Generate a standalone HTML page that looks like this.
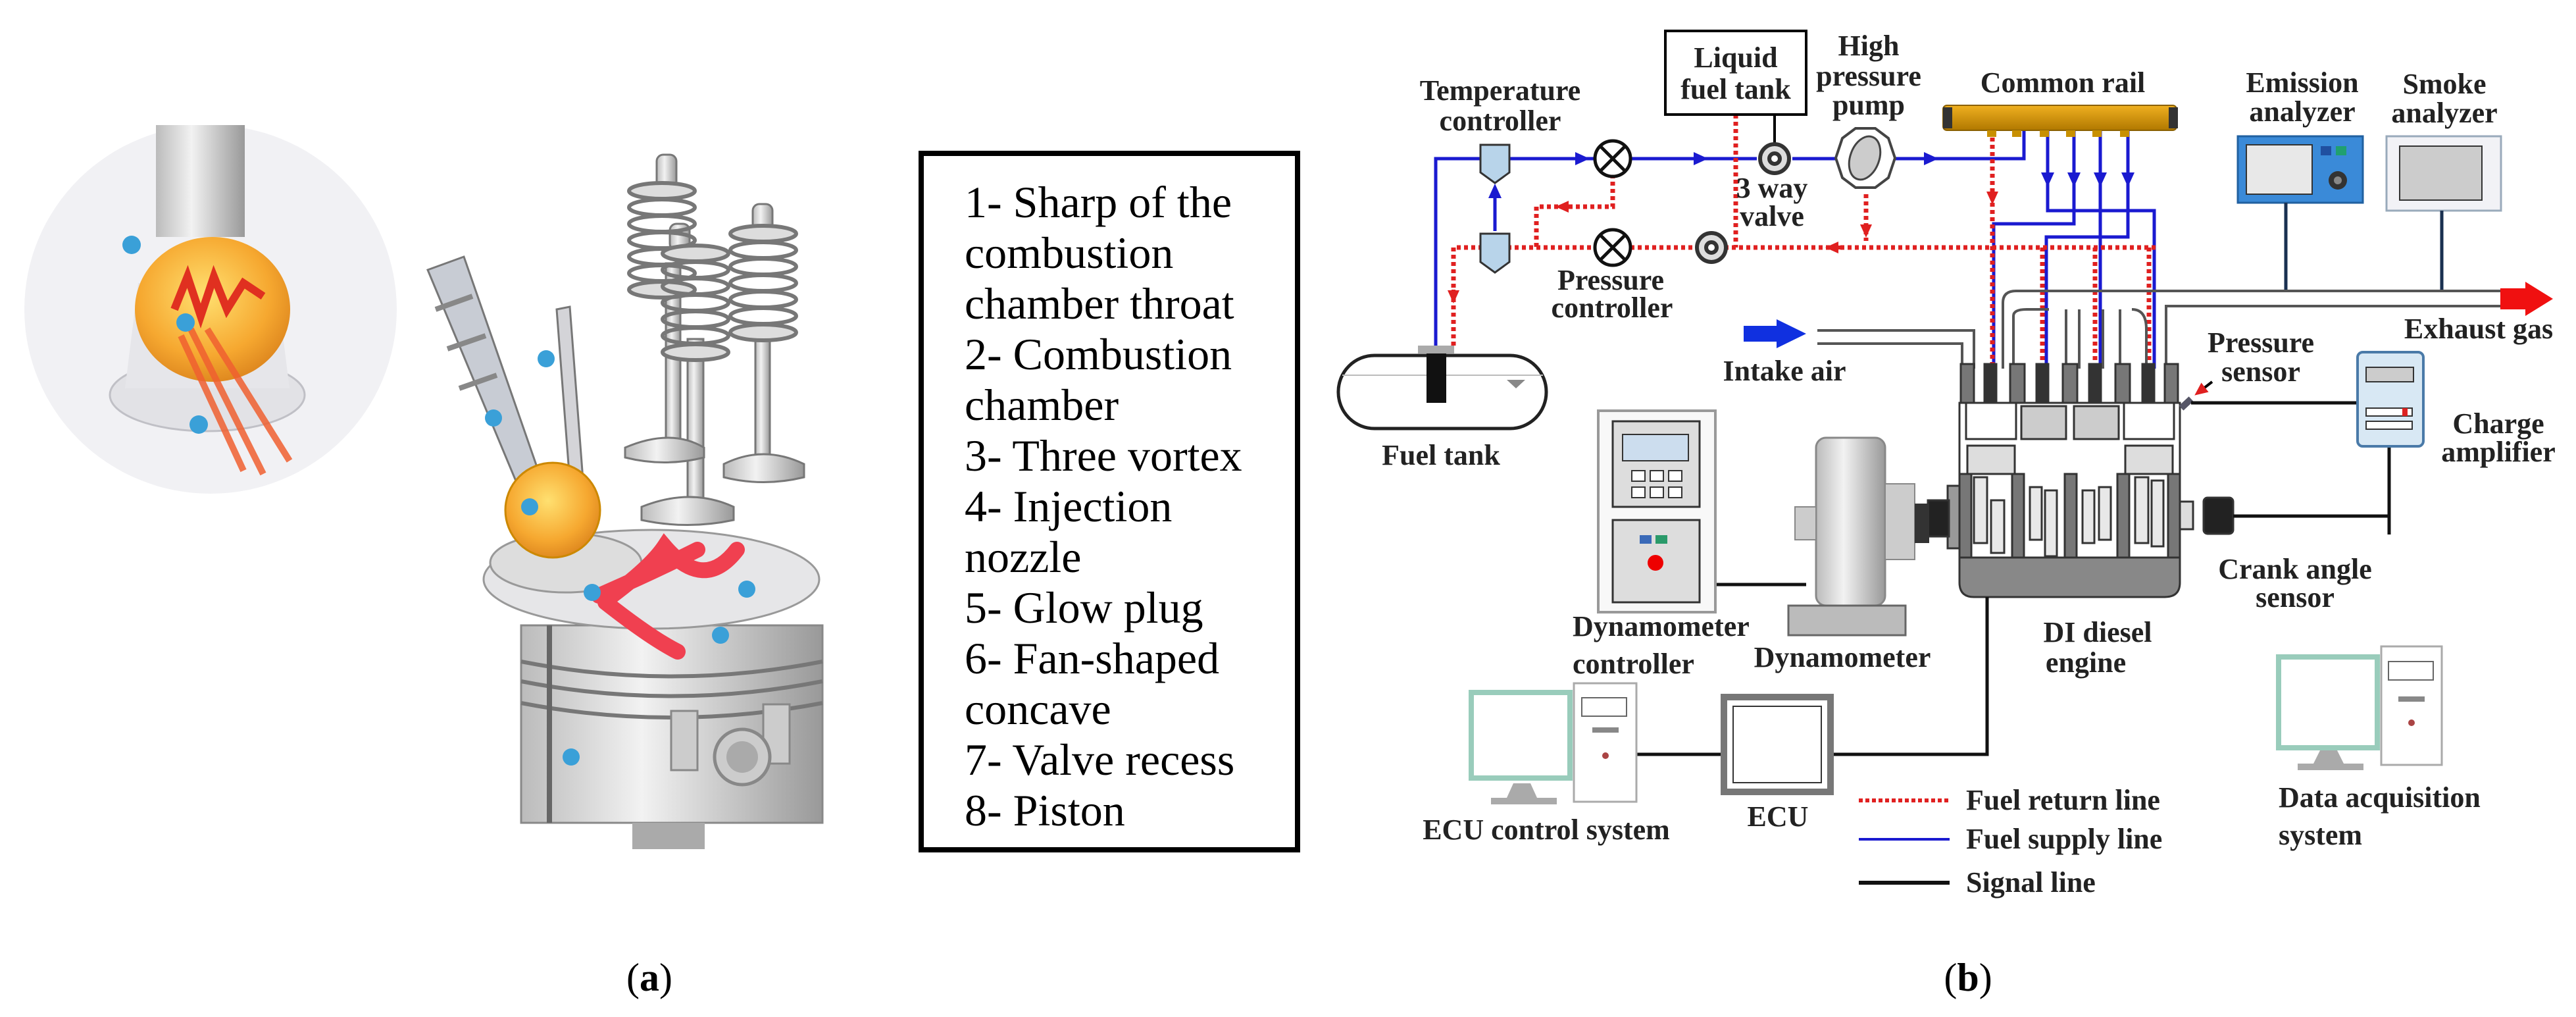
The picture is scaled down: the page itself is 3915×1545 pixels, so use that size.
<!DOCTYPE html>
<html><head><meta charset="utf-8"><style>
html,body{margin:0;padding:0;background:#fff;}
svg{display:block}
text{font-family:"Liberation Serif",serif;}
.b{font-weight:bold;font-size:44px;fill:#222;}
</style></head><body>
<svg width="3915" height="1545" viewBox="0 0 3915 1545" xmlns="http://www.w3.org/2000/svg">
<defs>
<radialGradient id="ball" cx="0.45" cy="0.4" r="0.6"><stop offset="0" stop-color="#ffe070"/><stop offset="0.7" stop-color="#f6a830"/><stop offset="1" stop-color="#e08a20"/></radialGradient>
<linearGradient id="steel" x1="0" x2="1"><stop offset="0" stop-color="#bbb"/><stop offset="0.4" stop-color="#f2f2f2"/><stop offset="1" stop-color="#999"/></linearGradient>
<linearGradient id="gold" x1="0" y1="0" x2="0" y2="1"><stop offset="0" stop-color="#f0b020"/><stop offset="1" stop-color="#b07800"/></linearGradient>
<marker id="ab" markerWidth="22" markerHeight="20" refX="16" refY="10" orient="auto" markerUnits="userSpaceOnUse"><path d="M0,0L22,10L0,20z" fill="#1a1ad0"/></marker>
<marker id="ar" markerWidth="20" markerHeight="18" refX="14" refY="9" orient="auto" markerUnits="userSpaceOnUse"><path d="M0,0L20,9L0,18z" fill="#e02020"/></marker>
<g id="spring" fill="none" stroke="#777" stroke-width="6">
<ellipse cx="0" cy="0" rx="50" ry="12" fill="#ddd"/><ellipse cx="0" cy="25" rx="50" ry="12"/><ellipse cx="0" cy="50" rx="50" ry="12"/><ellipse cx="0" cy="75" rx="50" ry="12"/><ellipse cx="0" cy="100" rx="50" ry="12"/><ellipse cx="0" cy="125" rx="50" ry="12"/><ellipse cx="0" cy="150" rx="50" ry="12" fill="#ddd"/>
</g>
</defs>

<!-- ===== (a) ===== -->
<ellipse cx="320" cy="470" rx="283" ry="280" fill="#f1f1f4"/>
<rect x="237" y="190" width="135" height="170" fill="url(#steel)"/>
<ellipse cx="315" cy="600" rx="148" ry="55" fill="#e2e2e6" stroke="#c0c0c6" stroke-width="3"/>
<path d="M210,430 L420,430 L440,590 L190,590z" fill="#e6e6ea"/>
<ellipse cx="323" cy="470" rx="118" ry="110" fill="url(#ball)"/>
<path d="M265,470 L285,420 L305,480 L325,420 L345,470 L370,430 L400,450" stroke="#e03020" stroke-width="12" fill="none"/>
<path d="M290,500 L400,720 M315,500 L440,700 M275,510 L370,715" stroke="#f06030" stroke-width="10" opacity="0.85"/>
<circle cx="200" cy="372" r="14" fill="#3aa0d8"/><circle cx="282" cy="490" r="14" fill="#3aa0d8"/><circle cx="302" cy="645" r="14" fill="#3aa0d8"/>

<g fill="url(#steel)" stroke="#777" stroke-width="3">
<rect x="998" y="235" width="30" height="50" rx="10"/>
<rect x="1045" y="515" width="24" height="250"/>
<rect x="1012" y="400" width="22" height="280"/>
<rect x="1148" y="500" width="22" height="200"/>
<rect x="1018" y="340" width="30" height="40" rx="10"/>
<rect x="1144" y="310" width="30" height="40" rx="10"/>
</g>
<use href="#spring" x="1006" y="290"/>
<use href="#spring" x="1160" y="355"/>
<use href="#spring" x="1057" y="385"/>
<g fill="url(#steel)" stroke="#777" stroke-width="3">
<path d="M950,680 Q1020,650 1070,680 L1070,695 Q1010,710 950,695z"/>
<path d="M975,770 Q1050,740 1115,770 L1115,790 Q1045,805 975,790z"/>
<path d="M1100,705 Q1160,675 1222,705 L1222,725 Q1160,740 1100,725z"/>
</g>
<g stroke="#777" stroke-width="3">
<path d="M650,410 L705,390 L825,735 L790,745z" fill="#c8ccd4"/>
<path d="M662,470 L718,450 M680,530 L738,510 M698,590 L755,570" stroke="#888" stroke-width="8"/>
<path d="M846,470 L866,466 L888,755 L868,758z" fill="#d4d4d8"/>
</g>
<circle cx="750" cy="635" r="13" fill="#3aa0d8"/><circle cx="830" cy="545" r="13" fill="#3aa0d8"/>
<rect x="792" y="950" width="458" height="300" fill="url(#steel)" stroke="#888" stroke-width="3"/>
<ellipse cx="990" cy="880" rx="255" ry="75" fill="#e6e6e8" stroke="#999" stroke-width="3"/>
<path d="M792,1005 Q1020,1050 1250,1005 M792,1035 Q1020,1080 1250,1035 M792,1068 Q1020,1112 1250,1068" stroke="#777" stroke-width="6" fill="none"/>
<rect x="1020" y="1080" width="40" height="90" fill="#ccc" stroke="#888" stroke-width="3"/>
<rect x="1160" y="1070" width="40" height="90" fill="#ccc" stroke="#888" stroke-width="3"/>
<circle cx="1128" cy="1150" r="42" fill="#ccc" stroke="#888" stroke-width="5"/>
<circle cx="1128" cy="1150" r="24" fill="#aaa"/>
<rect x="961" y="1250" width="110" height="40" fill="#aaa"/>
<path d="M835,950 L835,1250" stroke="#666" stroke-width="8"/>
<ellipse cx="860" cy="855" rx="115" ry="45" fill="#ddd" stroke="#999" stroke-width="3"/>
<circle cx="840" cy="775" r="72" fill="url(#ball)" stroke="#c80" stroke-width="3"/>
<path d="M910,905 Q990,870 1060,835 M920,915 Q990,970 1030,990 M930,905 Q990,860 1010,830 Q1070,900 1120,835" stroke="#f04050" stroke-width="24" fill="none" stroke-linecap="round"/>
<g fill="#3aa0d8"><circle cx="805" cy="770" r="13"/><circle cx="900" cy="900" r="13"/><circle cx="1135" cy="895" r="13"/><circle cx="1095" cy="965" r="13"/><circle cx="868" cy="1150" r="13"/></g>

<rect x="1400" y="233" width="572" height="1058" fill="#fff" stroke="#000" stroke-width="8"/>
<text x="1466" y="330" font-size="68" fill="#000">
<tspan x="1466" y="330">1- Sharp of the</tspan>
<tspan x="1466" dy="77">combustion</tspan>
<tspan x="1466" dy="77">chamber throat</tspan>
<tspan x="1466" dy="77">2- Combustion</tspan>
<tspan x="1466" dy="77">chamber</tspan>
<tspan x="1466" dy="77">3- Three vortex</tspan>
<tspan x="1466" dy="77">4- Injection</tspan>
<tspan x="1466" dy="77">nozzle</tspan>
<tspan x="1466" dy="77">5- Glow plug</tspan>
<tspan x="1466" dy="77">6- Fan-shaped</tspan>
<tspan x="1466" dy="77">concave</tspan>
<tspan x="1466" dy="77">7- Valve recess</tspan>
<tspan x="1466" dy="77">8- Piston</tspan>
</text>
<text x="987" y="1505" font-size="60" text-anchor="middle">(<tspan font-weight="bold">a</tspan>)</text>

<!-- ===== (b) ===== -->
<g stroke="#1a1ad0" stroke-width="5" fill="none">
<path d="M2182,525 L2182,241 L2424,241 M2478,241 L2670,241 M2724,241 L2790,241 M2878,241 L3076,241 L3076,198"/>
<path d="M2272,351 L2272,285" marker-end="url(#ab)"/>
<path d="M2400,241 L2410,241" marker-end="url(#ab)"/>
<path d="M2580,241 L2590,241" marker-end="url(#ab)"/>
<path d="M2930,241 L2940,241" marker-end="url(#ab)"/>
<path d="M3112,198 L3112,278" marker-end="url(#ab)"/>
<path d="M3152,198 L3152,278" marker-end="url(#ab)"/>
<path d="M3192,198 L3192,278" marker-end="url(#ab)"/>
<path d="M3234,198 L3234,278" marker-end="url(#ab)"/>
<path d="M3112,278 L3112,320 L3274,320 L3274,560"/>
<path d="M3152,278 L3152,340 L3030,340 L3030,560"/>
<path d="M3192,278 L3192,560"/>
<path d="M3234,278 L3234,360 L3110,360 L3110,560"/>
</g>
<g stroke="#e02020" stroke-width="7" fill="none" stroke-dasharray="6,5">
<path d="M3276,376 L2209,376 L2209,525"/>
<path d="M2638,174 L2638,376"/>
<path d="M2836,295 L2836,366"/>
<path d="M2451,265 L2451,314 L2335,314 L2335,376"/>
<path d="M3028,198 L3028,560"/>
<path d="M3104,376 L3104,560"/><path d="M3184,376 L3184,560"/><path d="M3266,376 L3266,560"/>
</g>
<path d="M2388,314 L2370,314" stroke="#e02020" stroke-width="6" marker-end="url(#ar)"/>
<path d="M2209,440 L2209,455" stroke="#e02020" stroke-width="6" marker-end="url(#ar)"/>
<path d="M3028,290 L3028,305" stroke="#e02020" stroke-width="6" marker-end="url(#ar)"/>
<path d="M2836,340 L2836,355" stroke="#e02020" stroke-width="6" marker-end="url(#ar)"/>
<path d="M2800,376 L2780,376" stroke="#e02020" stroke-width="6" marker-end="url(#ar)"/>

<rect x="2531" y="47" width="214" height="127" fill="#fff" stroke="#000" stroke-width="4"/>
<path d="M2697,174 L2697,220" stroke="#000" stroke-width="4"/>
<text class="b" x="2638" y="102" text-anchor="middle">Liquid</text>
<text class="b" x="2638" y="150" text-anchor="middle">fuel tank</text>
<text class="b" x="2840" y="84" text-anchor="middle">High</text>
<text class="b" x="2840" y="130" text-anchor="middle">pressure</text>
<text class="b" x="2840" y="174" text-anchor="middle">pump</text>
<text class="b" x="2280" y="152" text-anchor="middle">Temperature</text>
<text class="b" x="2280" y="198" text-anchor="middle">controller</text>
<path d="M2250,220 L2294,220 L2294,262 L2272,278 L2250,262z" fill="#b8d4ea" stroke="#333" stroke-width="3"/>
<path d="M2250,355 L2294,355 L2294,398 L2272,414 L2250,398z" fill="#b8d4ea" stroke="#333" stroke-width="3"/>
<g stroke="#111" stroke-width="5" fill="#fff">
<circle cx="2451" cy="241" r="27"/><path d="M2432,222L2470,260M2470,222L2432,260"/>
<circle cx="2451" cy="376" r="27"/><path d="M2432,357L2470,395M2470,357L2432,395"/>
</g>
<g stroke="#333" stroke-width="6" fill="#ddd">
<circle cx="2697" cy="241" r="22"/><circle cx="2697" cy="241" r="8" fill="#fff"/>
<circle cx="2601" cy="376" r="22"/><circle cx="2601" cy="376" r="8" fill="#fff"/>
</g>
<text class="b" x="2693" y="300" text-anchor="middle">3 way</text>
<text class="b" x="2693" y="343" text-anchor="middle">valve</text>
<text class="b" x="2448" y="440" text-anchor="middle">Pressure</text>
<text class="b" x="2450" y="482" text-anchor="middle">controller</text>
<path d="M2800,210 L2820,195 L2850,195 L2870,210 L2880,240 L2870,270 L2850,285 L2820,285 L2800,270 L2790,240z" fill="#fff" stroke="#444" stroke-width="4"/>
<ellipse cx="2834" cy="240" rx="22" ry="34" fill="#ccc" stroke="#444" stroke-width="3" transform="rotate(20 2834 240)"/>
<text class="b" x="3135" y="140" text-anchor="middle">Common rail</text>
<rect x="2953" y="160" width="355" height="38" rx="6" fill="url(#gold)" stroke="#8a6000" stroke-width="2"/>
<rect x="2953" y="163" width="14" height="32" fill="#333"/><rect x="3296" y="163" width="14" height="32" fill="#333"/>
<g fill="#c89000"><rect x="3020" y="198" width="14" height="10"/><rect x="3058" y="198" width="14" height="10"/><rect x="3100" y="198" width="14" height="10"/><rect x="3140" y="198" width="14" height="10"/><rect x="3180" y="198" width="14" height="10"/><rect x="3222" y="198" width="14" height="10"/></g>
<text class="b" x="3499" y="140" text-anchor="middle">Emission</text>
<text class="b" x="3499" y="184" text-anchor="middle">analyzer</text>
<text class="b" x="3715" y="142" text-anchor="middle">Smoke</text>
<text class="b" x="3715" y="186" text-anchor="middle">analyzer</text>
<rect x="3401" y="207" width="190" height="101" fill="#3a8ad8" stroke="#2060a0" stroke-width="3"/>
<rect x="3414" y="220" width="100" height="75" fill="#e8e8e8" stroke="#333" stroke-width="2"/>
<rect x="3527" y="222" width="16" height="14" fill="#2050a0"/><rect x="3550" y="222" width="16" height="14" fill="#20a070"/>
<circle cx="3553" cy="274" r="14" fill="#333"/><circle cx="3553" cy="274" r="6" fill="#888"/>
<rect x="3627" y="207" width="174" height="113" fill="#f2f2f6" stroke="#9ab" stroke-width="3"/>
<rect x="3647" y="222" width="125" height="82" fill="#ccc" stroke="#333" stroke-width="2"/>
<g stroke="#1a3050" stroke-width="5"><path d="M3474,308L3474,442M3711,320L3711,442"/></g>
<g stroke="#555" stroke-width="4" fill="none">
<path d="M3044,560 L3044,460 Q3044,442 3064,442 L3800,442"/>
<path d="M3292,560 L3292,465 L3800,465"/>
<path d="M3060,560 L3060,480 Q3060,470 3080,470 L3114,470 M3140,470 L3140,560 M3160,470 L3160,560 M3196,470 L3196,560 M3222,470 L3222,560 M3240,470 Q3262,470 3262,500 L3262,560"/>
<path d="M2762,502 L3000,502 L3000,560 M2762,522 L2982,522 L2982,560"/>
</g>
<path d="M3800,438 L3838,438 L3838,428 L3880,454 L3838,480 L3838,470 L3800,470z" fill="#f01010"/>
<text class="b" x="3767" y="514" text-anchor="middle">Exhaust gas</text>
<path d="M2650,495 L2700,495 L2700,485 L2745,507 L2700,529 L2700,519 L2650,519z" fill="#1030e0"/>
<text class="b" x="2712" y="578" text-anchor="middle">Intake air</text>
<rect x="2034" y="540" width="316" height="111" rx="55" fill="#fff" stroke="#222" stroke-width="5"/>
<path d="M2040,570 L2345,570" stroke="#bbb" stroke-width="2"/>
<rect x="2155" y="525" width="55" height="12" fill="#aaa"/>
<rect x="2168" y="537" width="30" height="75" fill="#111"/>
<path d="M2290,577 L2318,577 L2304,590z" fill="#888"/>
<text class="b" x="2190" y="706" text-anchor="middle">Fuel tank</text>
<g stroke="#333" stroke-width="3">
<rect x="2978" y="612" width="335" height="235" fill="#fff"/>
<g fill="#777"><rect x="2980" y="553" width="20" height="59"/><rect x="3055" y="553" width="22" height="59"/><rect x="3135" y="553" width="22" height="59"/><rect x="3215" y="553" width="22" height="59"/><rect x="3290" y="553" width="20" height="59"/></g>
<g fill="#333"><rect x="3016" y="553" width="18" height="59"/><rect x="3095" y="553" width="18" height="59"/><rect x="3175" y="553" width="18" height="59"/><rect x="3256" y="553" width="18" height="59"/></g>
<rect x="2988" y="612" width="76" height="55" fill="#fff"/>
<rect x="3072" y="617" width="68" height="50" fill="#ccc"/>
<rect x="3152" y="617" width="68" height="50" fill="#ccc"/>
<rect x="3228" y="612" width="76" height="55" fill="#fff"/>
<rect x="2990" y="677" width="72" height="43" fill="#ddd"/>
<rect x="3230" y="677" width="72" height="43" fill="#ddd"/>
<g fill="#777"><rect x="2978" y="720" width="18" height="127"/><rect x="3058" y="720" width="18" height="127"/><rect x="3138" y="720" width="18" height="127"/><rect x="3218" y="720" width="18" height="127"/><rect x="3295" y="720" width="18" height="127"/></g>
<g fill="#e8e8e8"><rect x="3000" y="725" width="20" height="100"/><rect x="3026" y="760" width="20" height="80"/><rect x="3085" y="740" width="18" height="80"/><rect x="3108" y="745" width="18" height="100"/><rect x="3165" y="745" width="18" height="80"/><rect x="3190" y="740" width="18" height="80"/><rect x="3245" y="725" width="20" height="100"/><rect x="3270" y="730" width="18" height="100"/></g>
<path d="M2978,847 L3313,847 L3313,885 Q3313,907 3290,907 L3000,907 Q2978,907 2978,885z" fill="#888"/>
<rect x="2960" y="738" width="18" height="95" fill="#999"/>
<rect x="2930" y="760" width="32" height="55" fill="#222"/>
<rect x="3313" y="762" width="20" height="42" fill="#ddd"/>
<rect x="3349" y="756" width="45" height="55" rx="6" fill="#222"/>
</g>
<path d="M3315,620 L3330,606" stroke="#556" stroke-width="10"/>
<path d="M3362,580 L3340,597" stroke="#000" stroke-width="4" marker-end="url(#ar)"/>
<text class="b" x="3436" y="535" text-anchor="middle">Pressure</text>
<text class="b" x="3436" y="579" text-anchor="middle">sensor</text>
<g stroke="#111" stroke-width="5" fill="none">
<path d="M3330,612 L3583,612"/>
<path d="M3631,678 L3631,812"/>
<path d="M3394,784 L3631,784"/>
<path d="M3020,907 L3020,1146 L2782,1146"/>
<path d="M2620,1146 L2485,1146"/>
<path d="M2607,888 L2745,888"/>
</g>
<rect x="3583" y="535" width="100" height="143" rx="8" fill="#d8e8f4" stroke="#4a7aa8" stroke-width="4"/>
<rect x="3596" y="558" width="72" height="22" fill="#ccc" stroke="#333" stroke-width="2"/>
<rect x="3596" y="620" width="70" height="12" fill="#fff" stroke="#333" stroke-width="2"/>
<rect x="3596" y="640" width="70" height="12" fill="#fff" stroke="#333" stroke-width="2"/>
<rect x="3651" y="620" width="8" height="12" fill="#d22"/>
<text class="b" x="3797" y="658" text-anchor="middle">Charge</text>
<text class="b" x="3797" y="701" text-anchor="middle">amplifier</text>
<text class="b" x="3488" y="879" text-anchor="middle">Crank angle</text>
<text class="b" x="3488" y="922" text-anchor="middle">sensor</text>
<text class="b" x="3188" y="975" text-anchor="middle">DI diesel</text>
<text class="b" x="3170" y="1021" text-anchor="middle">engine</text>
<rect x="2760" y="665" width="105" height="255" rx="15" fill="url(#steel)" stroke="#888" stroke-width="3"/>
<rect x="2865" y="735" width="45" height="115" fill="#ccc" stroke="#888" stroke-width="2"/>
<rect x="2728" y="770" width="32" height="50" fill="#ccc" stroke="#888" stroke-width="2"/>
<rect x="2910" y="765" width="22" height="60" fill="#333"/>
<rect x="2718" y="920" width="178" height="45" fill="#bbb" stroke="#666" stroke-width="3"/>
<text class="b" x="2800" y="1013" text-anchor="middle">Dynamometer</text>
<rect x="2429" y="624" width="178" height="306" fill="#f8f8f8" stroke="#999" stroke-width="4"/>
<rect x="2451" y="640" width="132" height="130" fill="#ddd" stroke="#333" stroke-width="3"/>
<rect x="2466" y="660" width="100" height="40" fill="#cde" stroke="#333" stroke-width="2"/>
<g fill="#fff" stroke="#333" stroke-width="2"><rect x="2480" y="715" width="20" height="16"/><rect x="2508" y="715" width="20" height="16"/><rect x="2536" y="715" width="20" height="16"/><rect x="2480" y="740" width="20" height="16"/><rect x="2508" y="740" width="20" height="16"/><rect x="2536" y="740" width="20" height="16"/></g>
<rect x="2451" y="790" width="132" height="125" fill="#ddd" stroke="#333" stroke-width="3"/>
<rect x="2492" y="813" width="18" height="13" fill="#3a6ab8"/><rect x="2516" y="813" width="18" height="13" fill="#2a9a6a"/>
<circle cx="2516" cy="855" r="12" fill="#e00"/>
<text class="b" x="2390" y="966">Dynamometer</text>
<text class="b" x="2390" y="1023">controller</text>
<rect x="2236" y="1052" width="150" height="130" fill="#fff" stroke="#9cb" stroke-width="8"/>
<path d="M2300,1190 L2326,1190 L2336,1212 L2290,1212z" fill="#aaa"/><rect x="2266" y="1212" width="100" height="10" fill="#aaa"/>
<rect x="2392" y="1038" width="95" height="180" fill="#fff" stroke="#aaa" stroke-width="3"/>
<rect x="2404" y="1060" width="68" height="28" fill="#fff" stroke="#666" stroke-width="2"/>
<rect x="2420" y="1105" width="40" height="8" fill="#888"/><circle cx="2440" cy="1148" r="5" fill="#a44"/>
<text class="b" x="2350" y="1275" text-anchor="middle">ECU control system</text>
<rect x="2620" y="1059" width="162" height="144" fill="#fff" stroke="#777" stroke-width="10"/>
<rect x="2634" y="1073" width="134" height="116" fill="#fff" stroke="#333" stroke-width="2"/>
<text class="b" x="2702" y="1255" text-anchor="middle">ECU</text>
<path d="M2825,1216 L2963,1216" stroke="#e02020" stroke-width="6" stroke-dasharray="6,4"/>
<path d="M2825,1275 L2963,1275" stroke="#1a1ad0" stroke-width="4"/>
<path d="M2825,1341 L2963,1341" stroke="#111" stroke-width="6"/>
<text class="b" x="2988" y="1230">Fuel return line</text>
<text class="b" x="2988" y="1289">Fuel supply line</text>
<text class="b" x="2988" y="1355">Signal line</text>
<rect x="3463" y="998" width="150" height="138" fill="#fff" stroke="#9cb" stroke-width="8"/>
<path d="M3526,1140 L3552,1140 L3562,1160 L3516,1160z" fill="#aaa"/><rect x="3492" y="1160" width="100" height="10" fill="#aaa"/>
<rect x="3619" y="982" width="92" height="180" fill="#fff" stroke="#aaa" stroke-width="3"/>
<rect x="3630" y="1005" width="68" height="28" fill="#fff" stroke="#666" stroke-width="2"/>
<rect x="3645" y="1058" width="40" height="8" fill="#888"/><circle cx="3665" cy="1098" r="5" fill="#a44"/>
<text class="b" x="3463" y="1226">Data acquisition</text>
<text class="b" x="3463" y="1283">system</text>
<text x="2991" y="1505" font-size="60" text-anchor="middle">(<tspan font-weight="bold">b</tspan>)</text>
</svg>
</body></html>
